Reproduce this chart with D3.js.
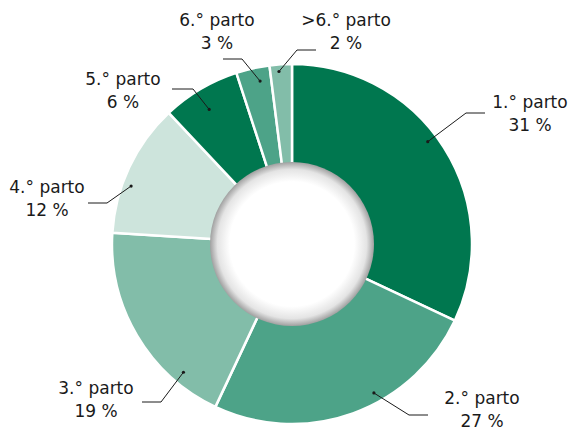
<!DOCTYPE html>
<html>
<head>
	<meta charset="utf-8">
	<title>partos</title>
	<script src="https://cdn.jsdelivr.net/npm/d3@7"></script>
	<style>
		body { margin: 0; background: #fff; }
		text { font-family: "DejaVu Sans", sans-serif; font-size: 17px; fill: #1a1a1a; }
	</style>
</head>
<body>
	<script type="text/javascript">

		// data
		var categories = ["1.° parto", "2.° parto", "3.° parto", "4.° parto", "5.° parto", "6.° parto", ">6.° parto"];
		var values = [32, 25, 19, 12, 7, 3, 2];          // slice sizes as drawn
		var labelPct = ["31 %", "27 %", "19 %", "12 %", "6 %", "3 %", "2 %"];  // printed labels
		var colors = ["#00774f", "#4da388", "#82bda9", "#cde4dc", "#00774f", "#4da388", "#82bda9"];

		var width = 569;
		var height = 430;
		var cx = 292, cy = 244;
		var outerR = 180, holeR = 82;

		// leader layout: where the dot sits in its slice, elbow and text anchor
		var leaders = [
			{ f: 0.46, r: 170, elbow: [466, 113], end: [485, 113], tx: 530, ty: 108 },
			{ f: 0.40, r: 170, elbow: [409, 415], end: [428, 415], tx: 482, ty: 404 },
			{ f: 0.22, r: 168, elbow: [161, 402], end: [142, 402], tx: 96, ty: 394 },
			{ f: 0.375, r: 171, elbow: [107, 203], end: [88, 203], tx: 47, ty: 193 },
			{ f: 0.46, r: 158, elbow: [193, 89], end: [172, 89], tx: 123, ty: 85 },
			{ f: 0.64, r: 166, elbow: [242, 59], end: [223, 59], tx: 217, ty: 26 },
			{ f: 0.40, r: 173, elbow: [297, 50], end: [316, 50], tx: 346, ty: 26 }
		];

		var svg = d3.select("body").append("svg")
			.attr("width", width)
			.attr("height", height);

		var defs = svg.append("defs");
		var grad = defs.append("radialGradient")
			.attr("id", "hole");
		grad.append("stop").attr("offset", "0%").attr("stop-color", "#ffffff");
		grad.append("stop").attr("offset", "76%").attr("stop-color", "#ffffff");
		grad.append("stop").attr("offset", "91%").attr("stop-color", "#e4e4e4");
		grad.append("stop").attr("offset", "100%").attr("stop-color", "#a0a0a0");

		var pie = d3.pie().sort(null).value(function (d) { return d; });
		var arcs = pie(values);

		var arc = d3.arc().innerRadius(0).outerRadius(outerR);

		var g = svg.append("g")
			.attr("transform", "translate(" + cx + "," + cy + ")");

		g.selectAll("path")
			.data(arcs)
			.enter()
				.append("path")
				.attr("d", arc)
				.attr("fill", function (d, i) { return colors[i]; })
				.attr("stroke", "#fff")
				.attr("stroke-width", 2.5)
				.attr("stroke-linejoin", "round");

		g.append("circle")
			.attr("r", holeR)
			.attr("fill", "url(#hole)");

		// leader lines
		function dotPos(d, i) {
			var L = leaders[i];
			var a = d.startAngle + (d.endAngle - d.startAngle) * L.f;
			return [cx + L.r * Math.sin(a), cy - L.r * Math.cos(a)];
		}

		svg.selectAll("path.leader")
			.data(arcs)
			.enter()
				.append("path")
				.attr("class", "leader")
				.attr("fill", "none")
				.attr("stroke", "#1a1a1a")
				.attr("stroke-width", 1)
				.attr("d", function (d, i) {
					var p = dotPos(d, i), L = leaders[i];
					return d3.line()([p, L.elbow, L.end]);
				});

		svg.selectAll("circle.dot")
			.data(arcs)
			.enter()
				.append("circle")
				.attr("class", "dot")
				.attr("r", 1.6)
				.attr("fill", "#1a1a1a")
				.attr("cx", function (d, i) { return dotPos(d, i)[0]; })
				.attr("cy", function (d, i) { return dotPos(d, i)[1]; });

		var labels = svg.selectAll("text.lab")
			.data(arcs)
			.enter()
				.append("text")
				.attr("class", "lab")
				.attr("text-anchor", "middle")
				.attr("x", function (d, i) { return leaders[i].tx; })
				.attr("y", function (d, i) { return leaders[i].ty; });

		labels.append("tspan")
			.attr("x", function (d, i) { return leaders[i].tx; })
			.text(function (d, i) { return categories[i]; });
		labels.append("tspan")
			.attr("x", function (d, i) { return leaders[i].tx; })
			.attr("dy", 23)
			.text(function (d, i) { return labelPct[i]; });

	</script>
</body>
</html>
